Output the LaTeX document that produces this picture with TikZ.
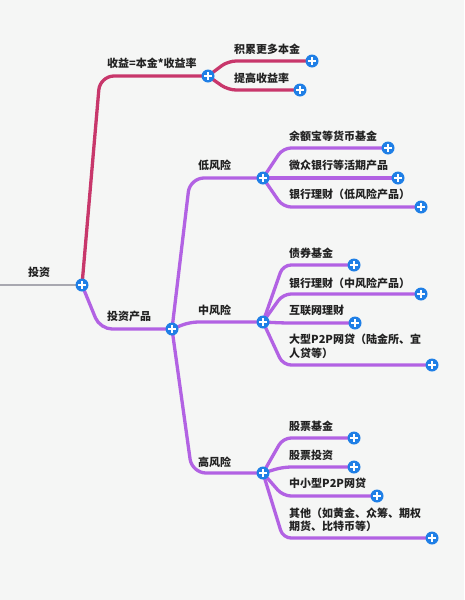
\documentclass[tikz,border=0pt]{standalone}
\usepackage{fontspec}
\setmainfont{Noto Sans CJK SC}
\usetikzlibrary{calc, backgrounds}
\definecolor{bgpaper}{HTML}{F5F6F5}
\definecolor{gainred}{HTML}{C8376B}
\definecolor{prodpurple}{HTML}{B262E3}
\definecolor{rootgrey}{HTML}{A8A8B0}
\definecolor{plusblue}{HTML}{1F7FE6}
\definecolor{inkgrey}{HTML}{222222}
\tikzset{
	plus/.style={circle, fill=plusblue, minimum size=13pt, inner sep=0pt,
		path picture={\draw[white, line width=1.8pt]
			([xshift=-3.6pt]path picture bounding box.center) -- ([xshift=3.6pt]path picture bounding box.center)
			([yshift=-3.6pt]path picture bounding box.center) -- ([yshift=3.6pt]path picture bounding box.center);}},
	lbl/.style={anchor=west, inner sep=0pt, text=inkgrey, align=left,
		font=\fontsize{11}{13.5}\selectfont\bfseries},
	limb/.style={line width=3.3pt, rounded corners=#1},
	limb/.default=8pt
}
% knee offset, style, from, to
\newcommand{\twig}[4][20]{\draw[#2] (#3.center) -- ($(#3.center |- #4.center)+(#1,0)$) -- (#4.center);}

\begin{document}
\begin{tikzpicture}[x=1pt, y=-1pt]
	\useasboundingbox (0,0) rectangle (464,600);
	% knots
	\node[plus] (root) at (82,285) {};
	\node[plus] (gain) at (208,76) {};
	\node[plus] (gmore) at (312,61) {};
	\node[plus] (grate) at (300,90) {};
	\node[plus] (prod) at (172,329) {};
	\node[plus] (low) at (263,178) {};
	\node[plus] (low1) at (388,148) {};
	\node[plus] (low2) at (398,178) {};
	\node[plus] (low3) at (421,207) {};
	\node[plus] (mid) at (263,322) {};
	\node[plus] (mid1) at (354,265) {};
	\node[plus] (mid2) at (421,294) {};
	\node[plus] (mid3) at (355,323) {};
	\node[plus] (mid4) at (432,365) {};
	\node[plus] (high) at (263,473) {};
	\node[plus] (high1) at (354,438) {};
	\node[plus] (high2) at (354,467) {};
	\node[plus] (high3) at (377,496) {};
	\node[plus] (high4) at (432,538) {};
	\coordinate (rootend) at (0,285);
	% texts
	\node[lbl] (roottext) at (28,272) {投资};
	\node[lbl] (gaintext) at (107,63) {收益=本金*收益率};
	\node[lbl] (gmoretext) at (234,49) {积累更多本金};
	\node[lbl] (gratetext) at (234,78) {提高收益率};
	\node[lbl] (prodtext) at (107,316) {投资产品};
	\node[lbl] (lowtext) at (198,165) {低风险};
	\node[lbl] (low1text) at (289,136) {余额宝等货币基金};
	\node[lbl] (low2text) at (289,165) {微众银行等活期产品};
	\node[lbl] (low3text) at (289,194) {银行理财（低风险产品）};
	\node[lbl] (midtext) at (198,310) {中风险};
	\node[lbl] (mid1text) at (289,253) {债券基金};
	\node[lbl] (mid2text) at (289,283) {银行理财（中风险产品）};
	\node[lbl] (mid3text) at (289,310) {互联网理财};
	\node[lbl] (mid4text) at (289,346.5) {大型P2P网贷（陆金所、宜\\人贷等）};
	\node[lbl] (hightext) at (198,462) {高风险};
	\node[lbl] (high1text) at (289,426) {股票基金};
	\node[lbl] (high2text) at (289,455) {股票投资};
	\node[lbl] (high3text) at (289,483) {中小型P2P网贷};
	\node[lbl] (high4text) at (289,520) {其他（如黄金、众筹、期权\\期货、比特币等）};
	% branches
	\begin{pgfonlayer}{background}
		\fill[bgpaper] (0,0) rectangle (464,600);
		\draw[rootgrey, line width=2.5pt] (rootend) -- (root.center);
		\twig[18]{gainred, limb=14pt}{root}{gain}
		\twig[20]{gainred, limb}{gain}{gmore}
		\twig[20]{gainred, limb}{gain}{grate}
		\twig[18]{prodpurple, limb=12pt}{root}{prod}
		\twig[18]{prodpurple, limb=14pt}{prod}{low}
		\twig[18]{prodpurple, limb}{prod}{mid}
		\twig[20]{prodpurple, limb=14pt}{prod}{high}
		\foreach \leaf in {low1, low2, low3}
			{\twig{prodpurple, limb}{low}{\leaf}}
		\foreach \leaf in {mid1, mid2, mid3, mid4}
			{\twig{prodpurple, limb}{mid}{\leaf}}
		\foreach \leaf in {high1, high2, high3, high4}
			{\twig{prodpurple, limb}{high}{\leaf}}
	\end{pgfonlayer}
\end{tikzpicture}
\end{document}
